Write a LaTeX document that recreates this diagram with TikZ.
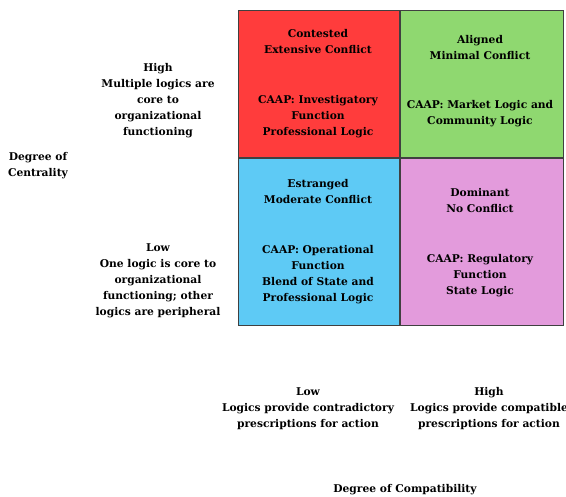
\documentclass[tikz,border=0pt]{standalone}
\usepackage{fontspec}
\setmainfont{DejaVu Serif}
\usetikzlibrary{positioning}
\definecolor{quadred}{RGB}{255,60,60}
\definecolor{quadgreen}{RGB}{143,216,112}
\definecolor{quadblue}{RGB}{94,202,245}
\definecolor{quadpink}{RGB}{227,155,220}
\tikzset{quad/.style={draw=black!75, line width=1.2pt, anchor=north west, inner sep=0pt}}
\tikzset{txt/.style={font=\fontsize{10.7}{16}\selectfont\bfseries, inner sep=0pt}}

\begin{document}
\begin{tikzpicture}[x=1pt, y=-1pt]
      \useasboundingbox (0,0) rectangle (566,497);

      % the four quadrants
      \node[quad, fill=quadred, minimum width=161pt, minimum height=147pt] (contested) at (238,10) {};
      \node[quad, fill=quadgreen, minimum width=163pt, minimum height=147pt] (aligned) at (contested.north east) {};
      \node[quad, fill=quadblue, minimum width=161pt, minimum height=167pt] (estranged) at (contested.south west) {};
      \node[quad, fill=quadpink, minimum width=163pt, minimum height=167pt] (dominant) at (estranged.north east) {};

      \node[txt] (contestedhead) at (318,42) {
        \begin{tabular}{@{}c@{}}
          Contested \\
          Extensive Conflict \\
        \end{tabular}
      };
      \node[txt] (contestedcaap) at (318,116) {
        \begin{tabular}{@{}c@{}}
          CAAP: Investigatory \\
          Function \\
          Professional Logic \\
        \end{tabular}
      };
      \node[txt] (alignedhead) at (480,48) {
        \begin{tabular}{@{}c@{}}
          Aligned \\
          Minimal Conflict \\
        \end{tabular}
      };
      \node[txt] (alignedcaap) at (480,113) {
        \begin{tabular}{@{}c@{}}
          CAAP: Market Logic and \\
          Community Logic \\
        \end{tabular}
      };
      \node[txt] (estrangedhead) at (318,192) {
        \begin{tabular}{@{}c@{}}
          Estranged \\
          Moderate Conflict \\
        \end{tabular}
      };
      \node[txt] (estrangedcaap) at (318,274) {
        \begin{tabular}{@{}c@{}}
          CAAP: Operational \\
          Function \\
          Blend of State and \\
          Professional Logic \\
        \end{tabular}
      };
      \node[txt] (dominanthead) at (480,201) {
        \begin{tabular}{@{}c@{}}
          Dominant \\
          No Conflict \\
        \end{tabular}
      };
      \node[txt] (dominantcaap) at (480,275) {
        \begin{tabular}{@{}c@{}}
          CAAP: Regulatory \\
          Function \\
          State Logic \\
        \end{tabular}
      };

      % centrality axis
      \node[txt] (centrality) at (38,165) {
        \begin{tabular}{@{}c@{}}
          Degree of \\
          Centrality \\
        \end{tabular}
      };
      \node[txt] (centralhigh) at (158,100) {
        \begin{tabular}{@{}c@{}}
          High \\
          Multiple logics are \\
          core to \\
          organizational \\
          functioning \\
        \end{tabular}
      };
      \node[txt] (centrallow) at (158,280) {
        \begin{tabular}{@{}c@{}}
          Low \\
          One logic is core to \\
          organizational \\
          functioning; other \\
          logics are peripheral \\
        \end{tabular}
      };

      % compatibility axis
      \node[txt] (compatlow) at (308,408) {
        \begin{tabular}{@{}c@{}}
          Low \\
          Logics provide contradictory \\
          prescriptions for action \\
        \end{tabular}
      };
      \node[txt] (compathigh) at (489,408) {
        \begin{tabular}{@{}c@{}}
          High \\
          Logics provide compatible \\
          prescriptions for action \\
        \end{tabular}
      };
      \node[txt] (compatibility) at (405,490) {Degree of Compatibility};

    \end{tikzpicture}
\end{document}
